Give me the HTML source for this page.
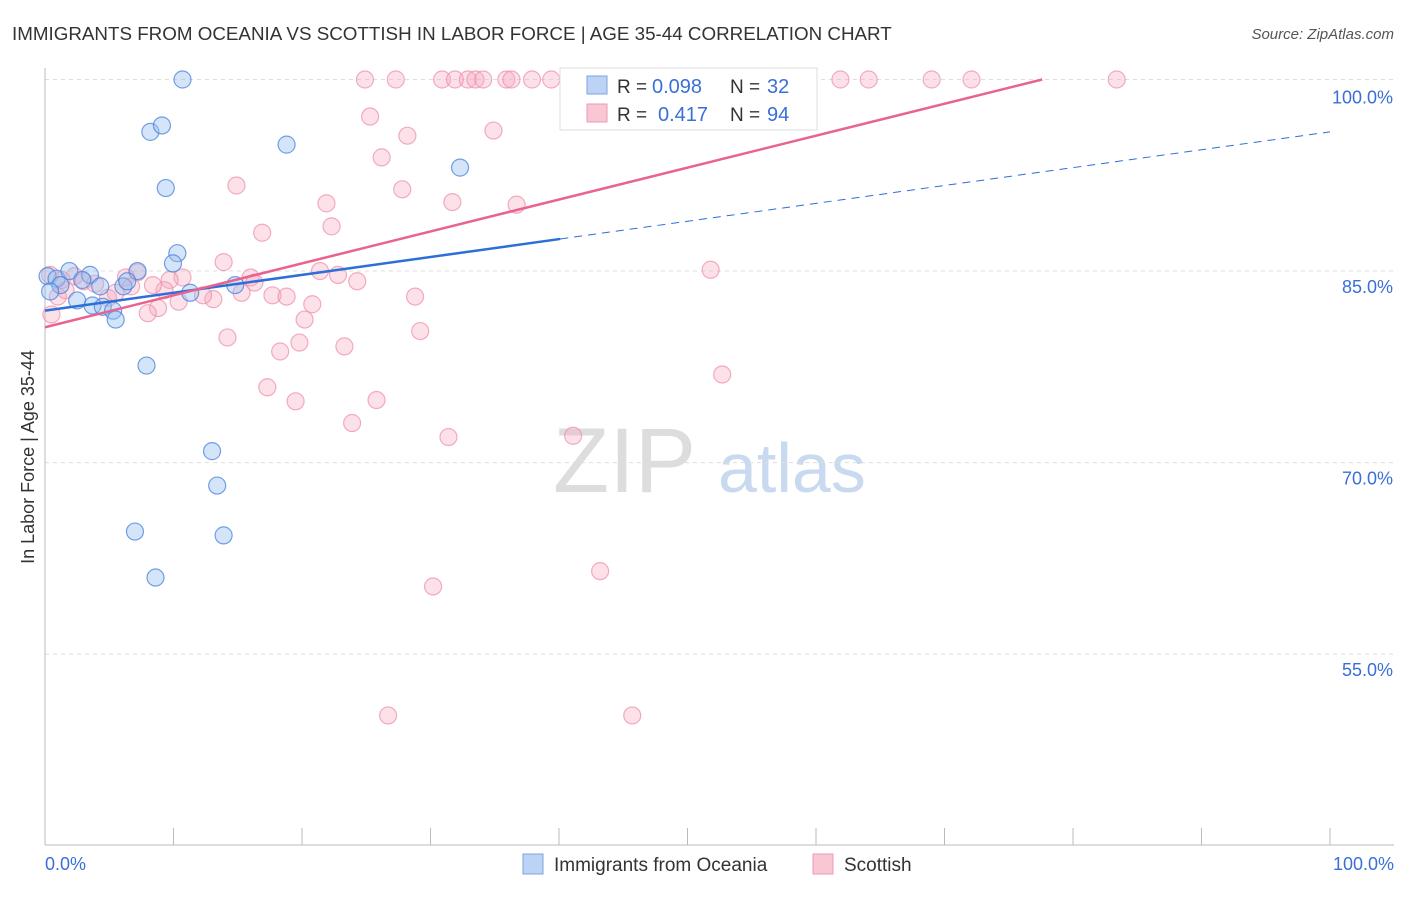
<!DOCTYPE html>
<html><head><meta charset="utf-8"><style>
body{margin:0;background:#fff;font-family:"Liberation Sans",sans-serif}
svg text{font-family:"Liberation Sans",sans-serif}
</style></head><body>
<svg id="c" width="1406" height="892">
<text x="12" y="40" font-size="18.8" fill="#333">IMMIGRANTS FROM OCEANIA VS SCOTTISH IN LABOR FORCE | AGE 35-44 CORRELATION CHART</text>
<text x="1394" y="39" font-size="15" fill="#555" font-style="italic" text-anchor="end">Source: ZipAtlas.com</text>
<text x="34" y="457" font-size="18" fill="#333" transform="rotate(-90 34 457)" text-anchor="middle">In Labor Force | Age 35-44</text>
<text x="553" y="492" font-size="92" fill="#ddd" font-family="Liberation Serif">ZIP</text>
<text x="718" y="492" font-size="70" fill="#c9d9f0">atlas</text>
<g id="grid"></g><g id="pts"></g><g id="trend"></g>
<g>
<rect x="560" y="68" width="257" height="62" fill="#fff" stroke="#ddd"/>
<rect x="587" y="76" width="20" height="18" fill="#bcd3f5" stroke="#7ea3e0"/>
<rect x="587" y="104" width="20" height="18" fill="#f9c6d4" stroke="#ec9ab2"/>
<text x="617" y="93" font-size="19" fill="#333">R =</text>
<text x="652" y="93" font-size="20" fill="#3a6fd8">0.098</text>
<text x="730" y="93" font-size="19" fill="#333">N =</text>
<text x="767" y="93" font-size="20" fill="#3a6fd8">32</text>
<text x="617" y="121" font-size="19" fill="#333">R =</text>
<text x="658" y="121" font-size="20" fill="#3a6fd8">0.417</text>
<text x="730" y="121" font-size="19" fill="#333">N =</text>
<text x="767" y="121" font-size="20" fill="#3a6fd8">94</text>
</g>
<g>
<rect x="523" y="854" width="20" height="20" fill="#bcd3f5" stroke="#7ea3e0"/>
<text x="554" y="871" font-size="19" fill="#333">Immigrants from Oceania</text>
<rect x="813" y="854" width="20" height="20" fill="#f9c6d4" stroke="#ec9ab2"/>
<text x="844" y="871" font-size="19" fill="#333">Scottish</text>
</g>
</svg>
<script>
const yTicks=[100,85,70,55];
const yTickLabels=["100.0%","85.0%","70.0%","55.0%"];
const xTickLabels=["0.0%","100.0%"];
const blueX=[10.7,8.2,9.1,18.8,9.4,32.3,10.3,9.96,7.2,0.2,0.9,1.9,3.5,2.9,1.2,2.5,3.7,4.5,5.3,5.5,6.1,6.4,11.3,14.8,7.9,13.0,13.4,13.9,7.0,8.6,4.3,0.4];
const blueY=[100,95.9,96.4,94.9,91.5,93.1,86.4,85.6,85.0,84.6,84.4,85.0,84.7,84.3,83.9,82.7,82.3,82.2,81.9,81.2,83.8,84.2,83.3,83.9,77.6,70.9,68.2,64.3,64.6,61.0,83.8,83.4];
const pinkX=[24.9,27.3,30.9,31.9,32.9,33.5,34.1,35.9,36.3,37.9,39.4,40.9,43.2,45.1,61.9,64.1,69.0,72.1,83.4,55.1,57.2,25.3,28.2,34.9,26.2,14.9,27.8,31.7,36.7,21.9,16.9,22.3,13.9,21.4,22.8,24.3,16.0,16.3,10.7,9.7,7.2,6.3,51.8,17.7,18.8,15.3,13.1,12.3,10.4,8.8,8.0,9.3,8.4,28.8,20.8,20.2,29.2,14.2,19.8,23.3,18.3,17.3,19.5,25.8,23.9,31.4,41.1,52.7,30.2,43.2,26.7,45.7,0.5,1.0,1.6,2.3,3.0,3.9,4.9,5.5,6.7,1.3,0.4];
const pinkY=[100,100,100,100,100,100,100,100,100,100,100,100,100,100,100,100,100,100,100,100,100,97.1,95.6,96.0,93.9,91.7,91.4,90.4,90.2,90.3,88.0,88.5,85.7,85.0,84.7,84.2,84.5,84.1,84.5,84.3,84.9,84.5,85.1,83.1,83.0,83.3,82.8,83.1,82.6,82.1,81.7,83.5,83.9,83.0,82.4,81.2,80.3,79.8,79.4,79.1,78.7,75.9,74.8,74.9,73.1,72.0,72.1,76.9,60.3,61.5,50.2,50.2,81.6,83.0,83.5,84.6,84.2,84.0,82.9,83.3,83.8,84.3,84.7];
const blueTrend=[81.9,0.14];
const pinkTrend=[80.6,0.25];
const NS="http://www.w3.org/2000/svg";
const X=v=>45+v*12.85, Y=v=>79.5+(100-v)*12.77;
function mk(t,a,p){const e=document.createElementNS(NS,t);for(const k in a)e.setAttribute(k,a[k]);p.appendChild(e);return e;}
const g=document.getElementById('grid');
yTicks.forEach((t,i)=>{
 const l=mk('line',{x1:45,x2:1394,y1:Y(t),y2:Y(t),stroke:'#ddd','stroke-dasharray':'4,4'},g);
 
 
 const tx=mk('text',{x:1393,y:Y(t)+(t==100?24:22),'font-size':18,fill:'#3a6fd8','text-anchor':'end'},g);
 tx.textContent=yTickLabels[i];
 
 
});
mk('line',{x1:45,x2:45,y1:68,y2:845,stroke:'#bbb'},g);
mk('line',{x1:45,x2:1394,y1:845,y2:845,stroke:'#bbb'},g);
for(let i=0;i<=10;i++){mk('line',{x1:X(i*10),x2:X(i*10),y1:828,y2:845,stroke:'#bbb'},g);}
const xl=[[45,'start',xTickLabels[0]],[1394,'end',xTickLabels[1]]];
xl.forEach(d=>{const t=mk('text',{x:d[0],y:870,'font-size':18,fill:'#3a6fd8','text-anchor':d[1]},g);t.textContent=d[2];
 
 });
const p=document.getElementById('pts');
pinkX.forEach((x,i)=>{const c=mk('circle',{cx:X(x),cy:Y(pinkY[i]),r:8.5,fill:'rgba(246,170,192,0.35)',stroke:'rgba(236,140,170,0.7)','stroke-width':1.2},p);
 
 });
blueX.forEach((x,i)=>{const c=mk('circle',{cx:X(x),cy:Y(blueY[i]),r:8.5,fill:'rgba(150,190,240,0.4)',stroke:'rgba(70,130,220,0.75)','stroke-width':1.2},p);
 
 });
const tr=document.getElementById('trend');
const bx=40.1;
let l=mk('line',{x1:X(0),y1:Y(blueTrend[0]),x2:X(bx),y2:Y(blueTrend[0]+blueTrend[1]*bx),stroke:'#2c6fd6','stroke-width':2.5},tr);


l=mk('line',{x1:X(bx),y1:Y(blueTrend[0]+blueTrend[1]*bx),x2:X(100),y2:Y(blueTrend[0]+blueTrend[1]*100),stroke:'#2c6fd6','stroke-width':1,'stroke-dasharray':'8,6'},tr);


const px=(100-pinkTrend[0])/pinkTrend[1];
l=mk('line',{x1:X(0),y1:Y(pinkTrend[0]),x2:X(px),y2:Y(100),stroke:'#e8638e','stroke-width':2.5},tr);


</script>
</body></html>
